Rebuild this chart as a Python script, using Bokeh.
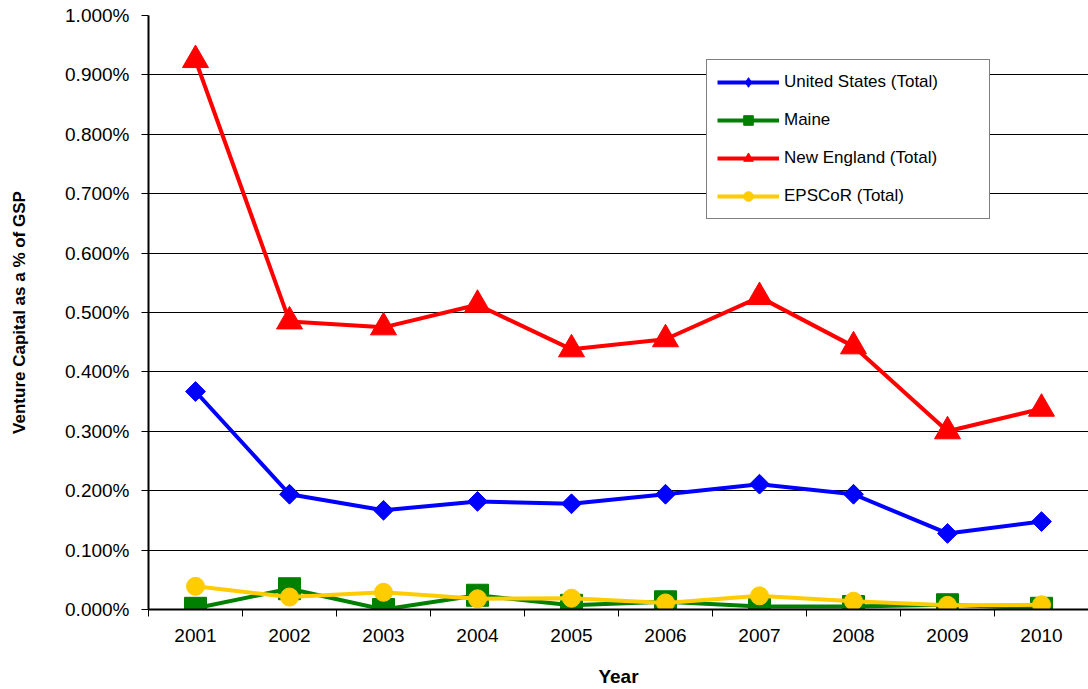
import math
from bokeh.plotting import figure
from bokeh.models import Legend, LegendItem, FixedTicker, PrintfTickFormatter, Range1d, ColumnDataSource
from bokeh.embed import file_html
from bokeh.resources import INLINE

years = [2001, 2002, 2003, 2004, 2005, 2006, 2007, 2008, 2009, 2010]
us_total = [0.367, 0.194, 0.167, 0.182, 0.178, 0.194, 0.211, 0.194, 0.128, 0.148]
maine = [0.002, 0.035, 0.000, 0.024, 0.007, 0.013, 0.005, 0.005, 0.008, 0.002]
new_england = [0.925, 0.485, 0.475, 0.513, 0.438, 0.455, 0.526, 0.443, 0.300, 0.338]
epscor = [0.039, 0.021, 0.029, 0.018, 0.019, 0.011, 0.023, 0.014, 0.007, 0.008]
y_ticks = [0.0, 0.1, 0.2, 0.3, 0.4, 0.5, 0.6, 0.7, 0.8, 0.9, 1.0]

FONT = "Liberation Sans"

p = figure(width=1088, height=689, output_backend="svg", toolbar_location=None,
           x_range=Range1d(years[0] - 0.5, years[-1] + 0.5), y_range=Range1d(0, 1.0),
           min_border_left=148, min_border_right=0, min_border_top=15, min_border_bottom=80)
p.outline_line_color = None
p.background_fill_color = "white"
p.border_fill_color = "white"

series = [
    ("United States (Total)", us_total, "#0000FF", "square", 14, math.pi / 4, "diamond"),
    ("Maine", maine, "#008000", "square", 22, 0, None),
    ("New England (Total)", new_england, "#FF0000", "triangle", 26, 0, None),
    ("EPSCoR (Total)", epscor, "#FFCC00", "circle", 18, 0, None),
]

items = []
for name, vals, color, marker, size, ang, leg_marker in series:
    src = ColumnDataSource(dict(x=years, y=vals))
    l = p.line("x", "y", source=src, line_color=color, line_width=4)
    s = p.scatter("x", "y", source=src, marker=marker, size=size, angle=ang,
                  fill_color=color, line_color=color)
    if leg_marker is not None:
        s_leg = p.scatter("x", "y", source=src, marker=leg_marker, size=size,
                          fill_color=color, line_color=color, visible=False)
        items.append(LegendItem(label=name, renderers=[l, s_leg]))
    else:
        items.append(LegendItem(label=name, renderers=[l, s]))

# axes
xa = p.xaxis[0]
xa.ticker = FixedTicker(ticks=years, minor_ticks=[y + 0.5 for y in [years[0] - 1] + years])
xa.major_tick_out = 0
xa.major_tick_in = 0
xa.minor_tick_out = 7
xa.minor_tick_in = 0
xa.minor_tick_line_color = "black"
xa.minor_tick_line_width = 1
xa.axis_line_color = "black"
xa.axis_line_width = 2
xa.major_label_text_font = FONT
xa.major_label_text_font_size = "19px"
xa.major_label_text_color = "black"
xa.major_label_standoff = 12
xa.axis_label = "Year"
xa.axis_label_text_font = FONT
xa.axis_label_text_font_size = "19px"
xa.axis_label_text_font_style = "bold"
xa.axis_label_text_color = "black"
xa.axis_label_standoff = 21

ya = p.yaxis[0]
ya.ticker = FixedTicker(ticks=y_ticks)
ya.formatter = PrintfTickFormatter(format="%.3f%%")
ya.major_tick_out = 7
ya.major_tick_in = 0
ya.minor_tick_out = 0
ya.minor_tick_in = 0
ya.major_tick_line_color = "black"
ya.axis_line_color = "black"
ya.axis_line_width = 2
ya.major_label_text_font = FONT
ya.major_label_text_font_size = "19px"
ya.major_label_text_color = "black"
ya.major_label_standoff = 12
ya.axis_label = "Venture Capital as a % of GSP"
ya.axis_label_text_font = FONT
ya.axis_label_text_font_size = "17px"
ya.axis_label_text_font_style = "bold"
ya.axis_label_text_color = "black"
ya.axis_label_standoff = 33

p.xgrid.grid_line_color = None
p.ygrid.ticker = FixedTicker(ticks=y_ticks)
p.ygrid.grid_line_color = "black"
p.ygrid.grid_line_width = 1

legend = Legend(items=items, location=(558, 390), orientation="vertical",
                padding=10, spacing=14, margin=0,
                glyph_width=62, glyph_height=24, label_standoff=5, label_width=195,
                label_text_font=FONT, label_text_font_size="17px", label_text_color="black",
                border_line_color="black", border_line_width=1,
                background_fill_color="white", background_fill_alpha=1)
p.add_layout(legend, "center")

open("out.html", "w").write(file_html(p, INLINE))
